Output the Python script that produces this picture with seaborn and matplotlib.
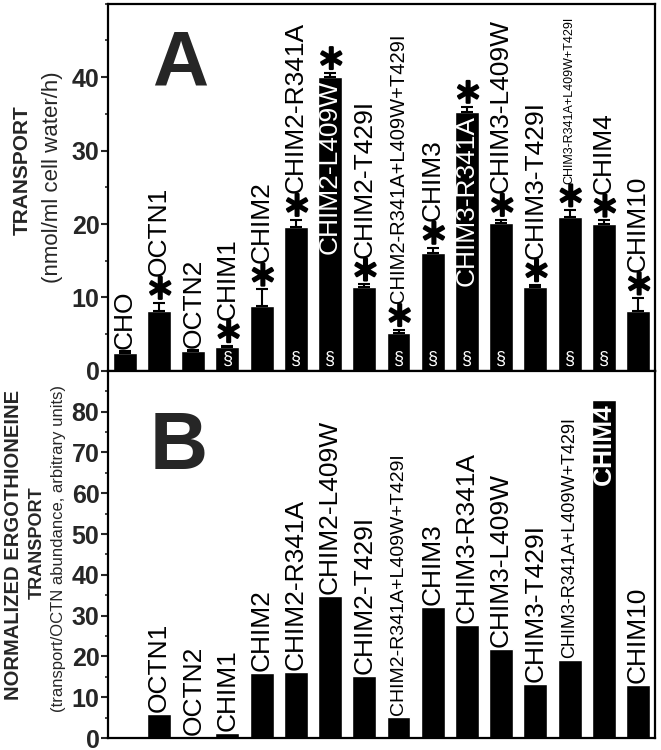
import matplotlib
matplotlib.use("Agg")
import matplotlib.pyplot as plt
import matplotlib.patheffects as pe
from matplotlib.ticker import MultipleLocator
import numpy as np
import pandas as pd
import seaborn as sns

# === data ===
CONSTRUCTS = ["CHO", "OCTN1", "OCTN2", "CHIM1", "CHIM2", "CHIM2-R341A", "CHIM2-L409W",
              "CHIM2-T429I", "CHIM2-R341A+L409W+T429I", "CHIM3", "CHIM3-R341A",
              "CHIM3-L409W", "CHIM3-T429I", "CHIM3-R341A+L409W+T429I", "CHIM4", "CHIM10"]

# panel A: transport (nmol/ml cell water/h) and upper error
TRANSPORT = [2.5, 8.2, 2.7, 3.2, 8.9, 19.6, 40.0, 11.4, 5.1, 16.0, 35.2, 20.2, 11.4, 21.0, 20.0, 8.2]
TRANSPORT_ERR = [0.2, 1.1, 0.1, 0.2, 2.2, 1.0, 0.6, 0.4, 0.5, 0.8, 0.8, 0.4, 0.3, 0.9, 0.5, 1.7]
STAR_A = [0, 1, 0, 1, 1, 1, 1, 1, 1, 1, 1, 1, 1, 1, 1, 1]
SECTION_A = [0, 0, 0, 1, 0, 1, 1, 0, 1, 1, 1, 1, 0, 1, 1, 0]
INSIDE_A = ["CHIM2-L409W", "CHIM3-R341A"]

# panel B: normalized transport (arbitrary units)
NORMALIZED = [0.0, 5.8, 0.3, 1.3, 15.9, 16.2, 34.8, 15.1, 5.2, 32.1, 27.7, 21.7, 13.3, 19.0, 82.8, 13.0]
INSIDE_B = ["CHIM4"]

LABEL_SIZE_A = {"CHIM2-R341A+L409W+T429I": 14.5, "CHIM3-R341A+L409W+T429I": 9}
LABEL_SIZE_B = {"CHIM2-R341A+L409W+T429I": 14, "CHIM3-R341A+L409W+T429I": 13}
LABEL_SIZE = 19

sns.set_style("ticks")
plt.rcParams["font.family"] = ["Liberation Sans", "DejaVu Sans"]

df = pd.DataFrame({"construct": CONSTRUCTS, "transport": TRANSPORT,
                   "err": TRANSPORT_ERR, "normalized": NORMALIZED})

fig, (ax_a, ax_b) = plt.subplots(2, 1, figsize=(6.61, 7.5), dpi=100, sharex=True)
fig.subplots_adjust(left=0.163, right=0.991, top=0.995, bottom=0.016, hspace=0)

sns.barplot(data=df, x="construct", y="transport", color="black", saturation=1,
            width=0.7, errorbar=None, ax=ax_a)
sns.barplot(data=df, x="construct", y="normalized", color="black", saturation=1,
            width=0.7, errorbar=None, ax=ax_b)

pos = np.arange(len(CONSTRUCTS))
zeros = np.zeros(len(CONSTRUCTS))
ax_a.errorbar(pos, df["transport"], yerr=[zeros, df["err"]], fmt="none",
              ecolor="black", elinewidth=1.5, capsize=4, capthick=1.5)

# bold-looking asterisk
star_fx = [pe.withStroke(linewidth=1.6, foreground="black")]

# --- labels panel A ---
for i, name in enumerate(CONSTRUCTS):
    top = TRANSPORT[i] + TRANSPORT_ERR[i]
    off = 1.5
    if STAR_A[i]:
        ax_a.annotate(r"$\ast$", (i, top), xytext=(0, 9.5), textcoords="offset points",
                      ha="center", va="center", fontsize=25, color="black",
                      path_effects=star_fx)
        off = 19
    fs = LABEL_SIZE_A.get(name, LABEL_SIZE)
    if name in INSIDE_A:
        ax_a.annotate(name, (i, TRANSPORT[i]), xytext=(0, -2), textcoords="offset points",
                      rotation=90, ha="center", va="top", fontsize=fs, color="white")
    else:
        ax_a.annotate(name, (i, top), xytext=(0, off), textcoords="offset points",
                      rotation=90, ha="center", va="bottom", fontsize=fs, color="black")
    if SECTION_A[i]:
        ax_a.annotate("\u00a7", (i, 0), xytext=(0, 2), textcoords="offset points",
                      ha="center", va="bottom", fontsize=13, color="white")

# --- labels panel B ---
for i, name in enumerate(CONSTRUCTS):
    if NORMALIZED[i] <= 0:
        continue
    fs = LABEL_SIZE_B.get(name, LABEL_SIZE)
    if name in INSIDE_B:
        ax_b.annotate(name, (i, NORMALIZED[i]), xytext=(0, -2), textcoords="offset points",
                      rotation=90, ha="center", va="top", fontsize=fs, color="white",
                      fontweight="bold")
    else:
        ax_b.annotate(name, (i, NORMALIZED[i]), xytext=(0, 1.5), textcoords="offset points",
                      rotation=90, ha="center", va="bottom", fontsize=fs, color="black")

# --- axes styling ---
for ax, ymax in [(ax_a, 50), (ax_b, 90)]:
    ax.set_ylim(0, ymax)
    ax.set_xlim(-0.5, len(CONSTRUCTS) - 0.5)
    ax.yaxis.set_major_locator(MultipleLocator(10))
    ax.yaxis.set_minor_locator(MultipleLocator(5))
    ax.set_xlabel("")
    ax.set_ylabel("")
    ax.tick_params(axis="x", bottom=False, labelbottom=False)
    ax.tick_params(axis="y", which="major", length=5, width=1.5, pad=1, labelsize=18)
    ax.tick_params(axis="y", which="minor", length=2.5, width=1.2)
    for sp in ax.spines.values():
        sp.set_visible(True)
        sp.set_linewidth(1.6)
        sp.set_color("black")

ax_a.set_yticks([0, 10, 20, 30, 40])
ax_a.set_yticklabels(["0", "10", "20", "30", "40"], fontweight="bold", fontsize=18)
ax_b.set_yticks([0, 10, 20, 30, 40, 50, 60, 70, 80])
ax_b.set_yticklabels([str(v) for v in range(0, 90, 10)], fontweight="bold", fontsize=18)

ax_a.text(0.132, 0.833, "A", transform=ax_a.transAxes, ha="center", va="center",
          fontsize=56, fontweight="bold")
ax_b.text(0.130, 0.79, "B", transform=ax_b.transAxes, ha="center", va="center",
          fontsize=58, fontweight="bold")

fig.text(0.033, 0.773, "TRANSPORT", rotation=90, ha="center", va="center",
         fontsize=15, fontweight="bold")
fig.text(0.079, 0.764, "(nmol/ml cell water/h)", rotation=90, ha="center", va="center",
         fontsize=16)
fig.text(0.021, 0.273, "NORMALIZED ERGOTHIONEINE", rotation=90, ha="center", va="center",
         fontsize=14.5, fontweight="bold")
fig.text(0.057, 0.276, "TRANSPORT", rotation=90, ha="center", va="center",
         fontsize=13, fontweight="bold")
fig.text(0.088, 0.269, "(transport/OCTN abundance, arbitrary units)", rotation=90,
         ha="center", va="center", fontsize=12)

fig.savefig("out.png", dpi=100)
